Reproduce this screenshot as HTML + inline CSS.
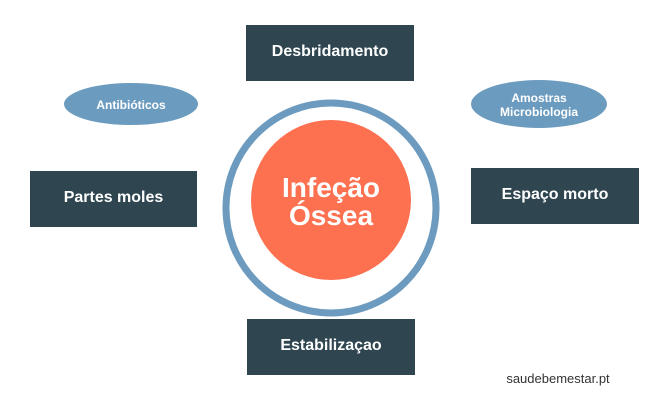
<!DOCTYPE html>
<html><head><meta charset="utf-8"><style>
body{margin:0;width:663px;height:400px;background:#fff;overflow:hidden;font-family:"Liberation Sans",sans-serif}
.b{position:absolute;background:#2f4650;color:#fff;font-weight:bold;font-size:16px;display:flex;align-items:center;justify-content:center;width:168px;height:56px;padding-bottom:2px;box-sizing:border-box}
</style></head><body>
<svg width="663" height="400" style="position:absolute;left:0;top:0">
<circle cx="331" cy="208" r="105" fill="none" stroke="#6c9bbf" stroke-width="7"/>
<circle cx="331" cy="200" r="80" fill="#fd7050"/>
<text x="331" y="197" text-anchor="middle" fill="#fff" font-family="Liberation Sans" font-weight="bold" font-size="28">Infeção</text>
<text x="331" y="225" text-anchor="middle" fill="#fff" font-family="Liberation Sans" font-weight="bold" font-size="28">Óssea</text>
<ellipse cx="131" cy="104" rx="67" ry="21" fill="#6b9bbf"/>
<text x="131" y="109" text-anchor="middle" fill="#fff" font-family="Liberation Sans" font-weight="bold" font-size="12">Antibióticos</text>
<ellipse cx="539" cy="104" rx="68" ry="24" fill="#6b9bbf"/>
<text x="539" y="102" text-anchor="middle" fill="#fff" font-family="Liberation Sans" font-weight="bold" font-size="12">Amostras</text>
<text x="539" y="116" text-anchor="middle" fill="#fff" font-family="Liberation Sans" font-weight="bold" font-size="12">Microbiologia</text>
<text x="558" y="383" text-anchor="middle" fill="#333" font-family="Liberation Sans" font-size="13">saudebemestar.pt</text>
</svg>
<div class="b" style="left:246px;top:25px">Desbridamento</div>
<div class="b" style="left:30px;top:171px;width:167px">Partes moles</div>
<div class="b" style="left:471px;top:168px">Espaço morto</div>
<div class="b" style="left:247px;top:319px">Estabilizaçao</div>
</body></html>
